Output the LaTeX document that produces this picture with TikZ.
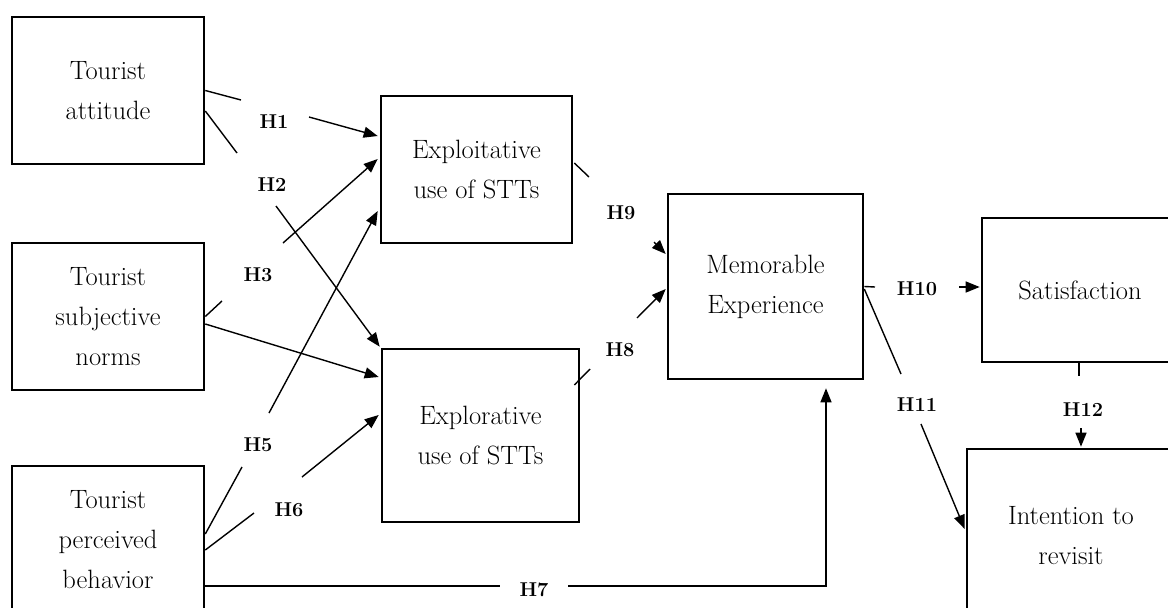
\documentclass[tikz,border=0pt]{standalone}
\usepackage{fontspec}
\setmainfont{Latin Modern Roman}
\usetikzlibrary{arrows.meta,calc}
\begin{document}
\begin{tikzpicture}[x=1pt,y=-1pt,
  box/.style={draw, line width=2.6pt, align=center, inner sep=0pt, font=\fontsize{26.5}{40}\selectfont},
  hyp/.style={font=\bfseries\fontsize{20}{20}\selectfont, inner sep=0pt},
  conn/.style={line width=1.4pt},
  arr/.style={conn, -{Triangle[length=14pt,width=11pt]}}]
\clip (0,0) rectangle (1168,608);
\fill[white] (0,0) rectangle (1168,608);

% boxes
\node[box, minimum width=192pt, minimum height=147pt] (ta) at (108,90.5) {Tourist\\attitude};
\node[box, minimum width=192pt, minimum height=147pt] (sn) at (108,316.5) {Tourist\\subjective\\norms};
\node[box, minimum width=192pt, minimum height=147pt] (pb) at (108,539.5) {Tourist\\perceived\\behavior};
\node[box, minimum width=191pt, minimum height=147pt] (ex) at (476.5,169.5) {Exploitative\\use of STTs};
\node[box, minimum width=197pt, minimum height=173pt] (ep) at (480.5,435.5) {Explorative\\use of STTs};
\node[box, minimum width=195pt, minimum height=185pt] (me) at (765.5,286.5) {Memorable\\Experience};
\node[box, minimum width=196pt, minimum height=144pt] (sa) at (1080,290) {Satisfaction};
\node[box, minimum width=208pt, minimum height=173pt] (it) at (1071,535.5) {Intention to\\revisit};

% labels
\node[hyp] (H1) at (274,122) {H1};
\node[hyp] (H2) at (272,185) {H2};
\node[hyp] (H3) at (258,275) {H3};
\node[hyp] (H5) at (258,445) {H5};
\node[hyp] (H6) at (289,510) {H6};
\node[hyp] (H7) at (534,590) {H7};
\node[hyp] (H8) at (620,350) {H8};
\node[hyp] (H9) at (621,213) {H9};
\node[hyp] (H10) at (917,289) {H10};
\node[hyp] (H11) at (917,405) {H11};
\node[hyp] (H12) at (1083,410) {H12};

% gap coordinates
\coordinate (h1a) at (241,100);  \coordinate (h1b) at (309,117);
\coordinate (h2a) at (237,153);  \coordinate (h2b) at (276,206);
\coordinate (h3a) at (222,301);  \coordinate (h3b) at (283,243);
\coordinate (h5a) at (242,467);  \coordinate (h5b) at (269,413);
\coordinate (h6a) at (254,513);  \coordinate (h6b) at (302,477);
\coordinate (h7a) at (500,586);  \coordinate (h7b) at (568,586);
\coordinate (h7c) at (826,586);
\coordinate (h8a) at (590,369);  \coordinate (h8b) at (637,318);
\coordinate (h9a) at (589,177);  \coordinate (h9b) at (654,242);
\coordinate (h10a) at (875,287); \coordinate (h10b) at (959,287);
\coordinate (h11a) at (901,374); \coordinate (h11b) at (921,424);
\coordinate (h12a) at (1079,376); \coordinate (h12b) at (1081,428);

% H1
\draw[conn] (ta.east) -- (h1a);
\draw[arr] (h1b) -- ($(ex.west)+(-2,-33.5)$);
% H2
\draw[conn] ($(ta.east)+(0,20.5)$) -- (h2a);
\draw[arr] (h2b) -- ($(ep.north west)+(-1,-1)$);
% H3
\draw[conn] (sn.east) -- (h3a);
\draw[arr] (h3b) -- ($(ex.west)+(-2,-10.5)$);
% unlabelled path
\draw[arr] ($(sn.east)+(0,7.5)$) -- ($(ep.west)+(-2,-58.5)$);
% H5
\draw[conn] ($(pb.east)+(0,-5.5)$) -- (h5a);
\draw[arr] (h5b) -- ($(ex.west)+(-2,41.5)$);
% H6
\draw[conn] ($(pb.east)+(0,10.5)$) -- (h6a);
\draw[arr] (h6b) -- ($(ep.west)+(-2,-20.5)$);
% H7
\draw[conn] ($(pb.east)+(0,46.5)$) -- (h7a);
\draw[arr] (h7b) -- (h7c) -- ($(me.south)+(60.5,8)$);
% H8
\draw[conn] ($(ep.east)+(-6,-50.5)$) -- (h8a);
\draw[arr] (h8b) -- ($(me.west)+(-1,2.5)$);
% H9
\draw[conn] ($(ex.east)+(1,-6.5)$) -- (h9a);
\draw[arr] (h9b) -- ($(me.west)+(-1,-32.5)$);
% H10
\draw[conn] (me.east) -- (h10a);
\draw[arr] (h10b) -- ($(sa.west)+(-1,-3)$);
% H11
\draw[conn] ($(me.east)+(0,2.5)$) -- (h11a);
\draw[arr] (h11b) -- ($(it.west)+(-1,-6.5)$);
% H12
\draw[conn] ($(sa.south)+(-1,0)$) -- (h12a);
\draw[arr] (h12b) -- ($(it.north)+(10,-1)$);
\end{tikzpicture}
\end{document}
